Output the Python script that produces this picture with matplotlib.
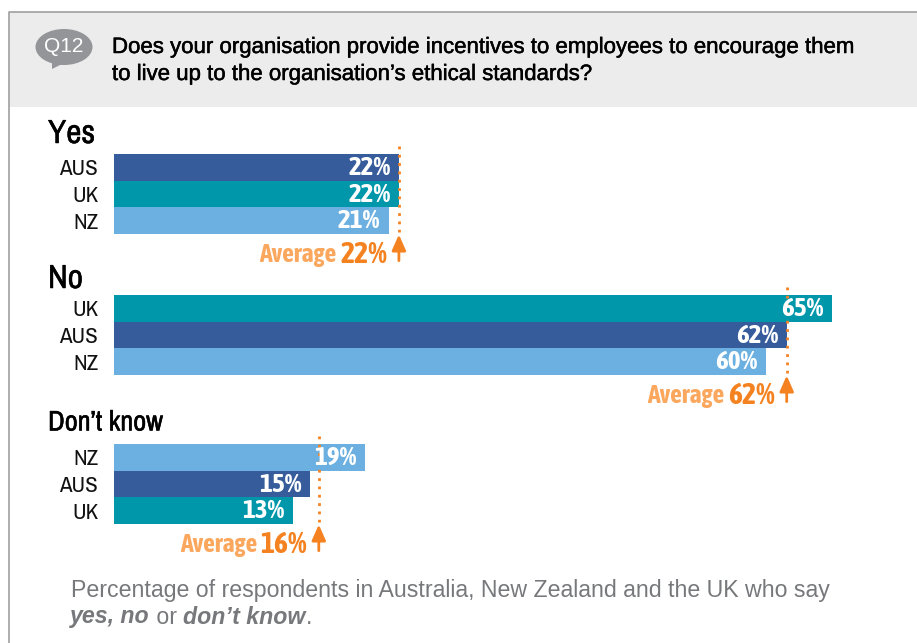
import matplotlib
matplotlib.use('Agg')
import matplotlib.pyplot as plt
from matplotlib.patches import Ellipse, Polygon, Rectangle
from matplotlib import patheffects as pe

W, H = 917, 643

NARROW = ['Archivo Narrow', 'Liberation Sans', 'DejaVu Sans']
NARROW_BOLD = ['Asap Condensed', 'Liberation Sans', 'DejaVu Sans']
SANS = ['Liberation Sans', 'DejaVu Sans']

colors = {'AUS': '#375c9b', 'UK': '#0097aa', 'NZ': '#6bb0e0'}
ORANGE = '#f58220'
LIGHT_ORANGE = '#fba75e'
GREY = '#77787b'

yes_cats = ['AUS', 'UK', 'NZ']
yes_labels = [22, 22, 21]
yes_lengths = [22, 22, 21.2]
yes_avg = 22

no_cats = ['UK', 'AUS', 'NZ']
no_labels = [65, 62, 60]
no_lengths = [66.2, 62, 60.1]
no_avg = 62

dk_cats = ['NZ', 'AUS', 'UK']
dk_labels = [19, 15, 13]
dk_lengths = [19.6, 15.3, 14]
dk_avg = 16

question = ['Does your organisation provide incentives to employees to encourage them',
            'to live up to the organisation\u2019s ethical standards?']
footer = 'Percentage of respondents in Australia, New Zealand and the UK who say'

fig = plt.figure(figsize=(W / 100, H / 100), dpi=100)

# background layer in pixel coords
bg = fig.add_axes([0, 0, 1, 1])
bg.set_xlim(0, W)
bg.set_ylim(H, 0)
bg.axis('off')
bg.add_patch(Rectangle((9, 12), W - 9, 95, fc='#ececec', ec='none'))
bg.plot([9, 9, W], [H, 11.5, 11.5], color='#a0a0a0', lw=1.2)
bg.add_patch(Ellipse((64, 47), 57, 36, fc='#939598', ec='none'))
bg.add_patch(Polygon([[52, 60], [52, 69], [66, 62]], fc='#939598', ec='none'))
bg.text(64, 47, 'Q12', color='white', fontsize=15, family=SANS, ha='center', va='center')

stroke = [pe.withStroke(linewidth=0.35, foreground='black')]
for i, line in enumerate(question):
    bg.text(112, 47.5 + i * 27, line, fontsize=16, family=SANS, va='center', color='black',
            path_effects=stroke)

bg.text(48, 134, 'Yes', fontsize=24, family=NARROW, va='center', color='black', path_effects=stroke)
bg.text(48, 279, 'No', fontsize=24, family=NARROW, va='center', color='black', path_effects=stroke)
bg.text(48, 423, 'Don\u2019t know', fontsize=20.4, family=NARROW, va='center', color='black',
        path_effects=stroke)

FT = 16.7
bg.text(71, 590, footer, fontsize=FT, family=SANS, color=GREY, va='center')
t1 = bg.text(70, 617, 'yes, no', fontsize=FT, family=SANS, color=GREY, va='center',
             weight='bold', style='italic')
t2 = bg.annotate(' or ', xy=(1, 0.5), xycoords=t1, va='center', fontsize=FT, family=SANS, color=GREY)
t3 = bg.annotate('don\u2019t know', xy=(1, 0.5), xycoords=t2, va='center', fontsize=FT, family=SANS,
                 color=GREY, weight='bold', style='italic')
bg.annotate('.', xy=(1, 0.5), xycoords=t3, va='center', fontsize=FT, family=SANS, color=GREY)


def panel(top, scale, cats, labels, lengths, avg):
    left = 114
    ax = fig.add_axes([left / W, 1 - (top + 80) / H, (W - left) / W, 80 / H])
    ax.patch.set_alpha(0)
    ax.barh(range(3), lengths, height=1, color=[colors[c] for c in cats])
    ax.set_xlim(0, (W - left) / scale)
    ax.set_ylim(2.5, -0.5)
    ax.set_xticks([])
    ax.set_yticks(range(3))
    ax.set_yticklabels(cats, fontsize=16.5, family=NARROW, color='#111111')
    ax.tick_params(axis='y', length=0, pad=11.5)
    for s in ax.spines.values():
        s.set_visible(False)
    for i, (lab, ln) in enumerate(zip(labels, lengths)):
        ax.annotate(f'{lab}%', xy=(ln, i), xytext=(-6, 0), textcoords='offset points', ha='right',
                    va='center', color='white', fontsize=19.5, family=NARROW_BOLD, weight='bold', zorder=5)
    # average marker
    ax.plot([avg, avg], [-0.8, 2.42], color=ORANGE, lw=2, ls=(0, (1, 2)), clip_on=False, zorder=4)
    ax.annotate('', xy=(avg, 2.52), xytext=(avg, 3.5), annotation_clip=False,
                arrowprops=dict(arrowstyle='-|>,head_width=0.42,head_length=0.95', color=ORANGE,
                                lw=2, shrinkA=0, shrinkB=0))
    val = ax.annotate(f'{avg}%', xy=(avg, 3.27), xytext=(-8.5, 0), textcoords='offset points', ha='right',
                      va='center', color=ORANGE, fontsize=21.5, family=NARROW_BOLD, weight='bold',
                      annotation_clip=False)
    ax.annotate('Average ', xy=(0, 0.5), xycoords=val, ha='right', va='center', color=LIGHT_ORANGE,
                fontsize=18.5, family=NARROW_BOLD, weight='bold', annotation_clip=False)


panel(154, 12.95, yes_cats, yes_labels, yes_lengths, yes_avg)
panel(295, 10.85, no_cats, no_labels, no_lengths, no_avg)
panel(444, 12.8, dk_cats, dk_labels, dk_lengths, dk_avg)

fig.savefig('out.png', dpi=100)
